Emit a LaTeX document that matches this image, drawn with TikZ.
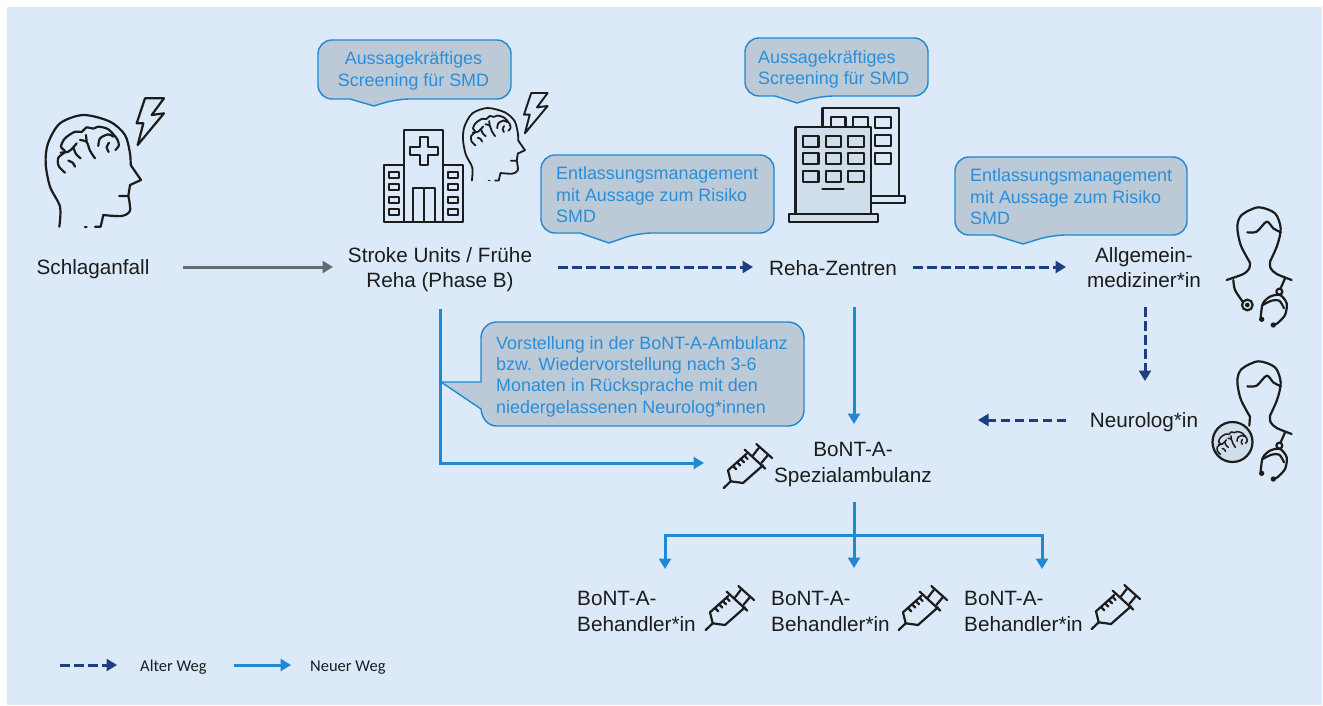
\documentclass[tikz,border=0pt]{standalone}
\usepackage{fontspec}
\setmainfont{Liberation Sans}
\newfontfamily\legendfont{Carlito}
\usetikzlibrary{arrows.meta}
\definecolor{bgblue}{HTML}{DBE9F8}
\definecolor{boxfill}{HTML}{BCC9D6}
\definecolor{newblue}{HTML}{2089D2}
\definecolor{txtblue}{HTML}{2A8FD8}
\definecolor{oldnavy}{HTML}{1B3F80}
\definecolor{greyarrow}{HTML}{666B70}
\definecolor{iconfill}{HTML}{D0DDEA}
\definecolor{ink}{HTML}{1C1C1C}
\tikzset{
  calloutbox/.style={draw=newblue,fill=boxfill,line width=1.4pt,rounded corners=14pt},
  calltext/.style={text=txtblue,inner sep=0pt,font=\fontsize{17.9}{21.4}\selectfont},
  labeltext/.style={text=ink,inner sep=0pt,font=\fontsize{20.7}{25.5}\selectfont},
  legendtext/.style={text=ink,inner sep=0pt,font=\legendfont\fontsize{16.5}{18}\selectfont},
  newway/.style={draw=newblue,line width=3pt,-{Triangle[length=10.5pt,width=12pt]}},
  oldway/.style={draw=oldnavy,line width=3pt,dash pattern=on 9.5pt off 4.5pt,-{Triangle[length=10.5pt,width=12pt]}},
  greyway/.style={draw=greyarrow,line width=3pt,-{Triangle[length=10.5pt,width=12pt]}},
  icon/.style={draw=ink,line width=2.2pt,line cap=round,line join=round},
}
\newcommand{\brainlines}{%
  \draw[icon] plot[smooth] coordinates {(75,248)(56,228)(55,203)(75,185)(63,170)(75,145)(105,125)(125,126)(140,112)(160,116)(175,110)(205,118)(232,148)(236,168)(226,180)};
  \draw[icon] plot[smooth] coordinates {(62,188)(85,185)(100,172)(110,160)};
  \draw[icon] plot[smooth] coordinates {(100,172)(108,192)(122,205)};
  \draw[icon] plot[smooth] coordinates {(120,150)(140,156)(150,182)(165,205)};
  \draw[icon] (138,135) -- (140,156);
  \draw[icon] plot[smooth] coordinates {(105,230)(98,218)(85,212)};
  \draw[icon] plot[smooth] coordinates {(175,168)(180,145)(205,133)(220,140)};
  \draw[icon] plot[smooth] coordinates {(207,158)(200,172)(206,186)};
}
\newcommand{\headoutline}{%
  \draw[icon] plot[smooth] coordinates {(58,410)(60,350)(30,290)(17,220)(24,160)(60,100)(130,75)(210,95)(255,135)(270,190)(272,225)};
  \draw[icon] (272,225) -- (303,270) -- (270,285) -- (265,318) -- (238,318);
  \draw[icon] plot[smooth] coordinates {(265,318)(270,362)(245,378)(190,375)};
  \draw[icon] (190,375) -- (182,410) -- (165,410);
  \draw[icon] (135,410) -- (140,410);
}
\newcommand{\boltshape}{%
  \draw[icon] (315,25) -- (372,25) -- (335,75) -- (372,70) -- (293,165) -- (310,100) -- (290,100) -- cycle;
}
\newcommand{\doctorbase}{%
  \draw[icon] plot[smooth] coordinates {(90,188)(62,135)(52,80)(65,45)(115,22)(165,40)(182,85)(172,135)(150,185)};
  \draw[icon] plot[smooth] coordinates {(82,97)(110,95)(140,65)(160,85)(182,97)};
  \draw[icon] plot[smooth] coordinates {(150,185)(152,205)(170,222)(215,240)};
  \draw[icon] (195,235) -- (182,265);
  \draw[icon] (178,275) circle [radius=9];
  \draw[icon] plot[smooth] coordinates {(122,355)(128,312)(150,290)(180,285)(200,310)(195,345)(172,370)(160,375)};
  \draw[icon] plot[smooth] coordinates {(128,315)(155,302)(178,302)(192,325)};
  \fill[ink] (125,358) circle [radius=8];
  \fill[ink] (160,375) circle [radius=8];
}
\newcommand{\syringe}{%
  \draw[icon] (0.7,0) -- (7.7,-6.7);
  \draw[icon] (23.3,-34) -- (5,-17.7) -- (7.7,-6.7) -- (20,-5) -- (40,-22.7);
  \draw[icon] (21.7,-38.3) -- (42.3,-19.3);
  \draw[icon] (33.3,-44) -- (49,-30);
  \draw[icon] (29.3,-31.7) -- (35.7,-40);
  \draw[icon] (38.3,-25) -- (45,-33);
  \draw[icon] (10,-22) -- +(3.3,3.3);
  \draw[icon] (14,-25.7) -- +(3.3,3.3);
  \draw[icon] (17.7,-29) -- +(3.3,3.3);
  \draw[icon] (21.3,-32.3) -- +(3.3,3.3);
}
\begin{document}
\begin{tikzpicture}[x=1pt,y=-1pt]
\useasboundingbox (0,0) rectangle (1323,706);
\fill[white] (0,0) rectangle (1323,706);
\fill[bgblue] (7,7) rectangle (1322,705);

% head icons
\begin{scope}[shift={(40,90)},scale=1/3]
  \headoutline \brainlines \boltshape
\end{scope}
\begin{scope}[shift={(459.3,91.75)},scale=0.2167]
  \tikzset{icon/.append style={line width=1.8pt}}
  \headoutline \brainlines
\end{scope}
\begin{scope}[shift={(440.5,85.8)},scale=0.288]
  \tikzset{icon/.append style={line width=1.9pt}}
  \boltshape
\end{scope}

% hospital
\begin{scope}[shift={(20,30)},scale=1/3]
  \draw[icon] (1092,405) rectangle (1152,575);
  \draw[icon] (1152,300) rectangle (1270,575);
  \draw[icon] (1270,405) rectangle (1330,575);
  \draw[icon] (1200,320) -- (1224,320) -- (1224,350) -- (1253,350) -- (1253,376) -- (1224,376) -- (1224,406) -- (1200,406) -- (1200,376) -- (1170,376) -- (1170,350) -- (1200,350) -- cycle;
  \draw[icon] (1178,475) rectangle (1245,575);
  \draw[icon] (1212,475) -- (1212,575);
  \foreach \wy in {425,463,500,538}{
    \draw[icon] (1107,\wy) rectangle (1138,\wy+18);
    \draw[icon] (1283,\wy) rectangle (1314,\wy+18);
  }
\end{scope}

% rehab building
\begin{scope}[shift={(730,30)},xscale=1/2.703,yscale=1/3]
  \draw[icon] (250,290) -- (250,235) -- (456,235) -- (456,497);
  \draw[icon] (382,497) rectangle (472,520);
  \draw[icon] (272,290) -- (272,260) -- (312,260) -- (312,290);
  \draw[icon] (332,290) -- (332,260) -- (372,260) -- (372,290);
  \draw[icon] (392,260) rectangle (435,293);
  \draw[icon] (392,316) rectangle (435,347);
  \draw[icon] (392,368) rectangle (435,403);
  \draw[icon,fill=iconfill] (177,290) rectangle (382,552);
  \draw[icon,fill=iconfill] (160,552) rectangle (400,575);
  \foreach \wy in {317,370,424}{
    \foreach \wx in {197,259,320}{
      \draw[icon] (\wx,\wy) rectangle (\wx+42,\wy+33);
    }
  }
  \draw[icon] (250,478) -- (307,478);
\end{scope}

% doctors
\begin{scope}[shift={(1220,200)},scale=1/3]
  \doctorbase
  \draw[icon] plot[smooth] coordinates {(90,188)(88,205)(70,222)(20,240)};
  \draw[icon] plot[smooth] coordinates {(40,240)(45,270)(68,305)};
  \draw[icon] (82,315) circle [radius=16];
  \fill[ink] (82,315) circle [radius=7];
\end{scope}
\begin{scope}[shift={(1220,354)},scale=1/3]
  \doctorbase
  \draw[icon] (90,188) -- (88,215);
\end{scope}
\draw[icon,fill=iconfill] (1232.5,442) circle [radius=20];
\begin{scope}[shift={(1208.2,413.5)},scale=0.165]
  \tikzset{icon/.append style={line width=1.5pt}}
  \brainlines
\end{scope}

% syringes
\begin{scope}[shift={(723,488)}] \syringe \end{scope}
\begin{scope}[shift={(705,630)}] \syringe \end{scope}
\begin{scope}[shift={(898,630)}] \syringe \end{scope}
\begin{scope}[shift={(1091,629)}] \syringe \end{scope}

% callouts
\draw[calloutbox] (318,40) -- (511,40) -- (511,99) -- (396,99) [sharp corners] -- (374,106) -- (350,99) [rounded corners=14pt] -- (318,99) -- cycle;
\draw[calloutbox] (745,38) -- (928,38) -- (928,96) -- (820,96) [sharp corners] -- (797,103) -- (775,96) [rounded corners=14pt] -- (745,96) -- cycle;
\draw[calloutbox] (541,155) -- (774,155) -- (774,233) -- (638,233) [sharp corners] -- (609,243) -- (580,233) [rounded corners=14pt] -- (541,233) -- cycle;
\draw[calloutbox] (955,157) -- (1187,157) -- (1187,235) -- (1052,235) [sharp corners] -- (1023,244) -- (994,235) [rounded corners=14pt] -- (955,235) -- cycle;
\draw[calloutbox,sharp corners] (497,322) -- (788,322) .. controls (797,322) and (804,329) .. (804,338) -- (804,410) .. controls (804,419) and (797,426) .. (788,426) -- (497,426) .. controls (488,426) and (482,419) .. (481,409) -- (441,382) -- (481,382) -- (481,338) .. controls (481,329) and (488,322) .. (497,322) -- cycle;

\node[calltext,align=center] (c1) at (413.5,71) {Aussagekräftiges\\Screening für SMD};
\node[calltext,align=left,anchor=west] (c2) at (758,69.5) {Aussagekräftiges\\Screening für SMD};
\node[calltext,align=left,anchor=west] (c3) at (556,195) {Entlassungsmanagement\\mit Aussage zum Risiko\\SMD};
\node[calltext,align=left,anchor=west] (c4) at (970,197) {Entlassungsmanagement\\mit Aussage zum Risiko\\SMD};
\node[calltext,align=left,anchor=west] (c5) at (496,376.5) {Vorstellung in der BoNT-A-Ambulanz\\bzw. Wiedervorstellung nach 3-6\\Monaten in Rücksprache mit den\\niedergelassenen Neurolog*innen};

% labels
\node[labeltext] (schlag) at (93,269.5) {Schlaganfall};
\node[labeltext,align=center] (stroke) at (440,269.5) {Stroke Units / Frühe\\Reha (Phase B)};
\node[labeltext] (reha) at (833,268) {Reha-Zentren};
\node[labeltext,align=center] (allg) at (1144,267.5) {Allgemein-\\mediziner*in};
\node[labeltext] (neuro) at (1144,422) {Neurolog*in};
\node[labeltext,align=center] (spezial) at (853,464.5) {BoNT-A-\\Spezialambulanz};
\node[labeltext,align=left,anchor=west] (beh1) at (577,611.5) {BoNT-A-\\Behandler*in};
\node[labeltext,align=left,anchor=west] (beh2) at (771,611.5) {BoNT-A-\\Behandler*in};
\node[labeltext,align=left,anchor=west] (beh3) at (964,611.5) {BoNT-A-\\Behandler*in};
\node[legendtext,anchor=base west] (alt) at (140,671) {Alter Weg};
\node[legendtext,anchor=base west] (neu) at (310,671) {Neuer Weg};

% connector ends
\coordinate (a1s) at (183,267); \coordinate (a1e) at (333,267);
\coordinate (a2s) at (558,267); \coordinate (a2e) at (753,267);
\coordinate (a3s) at (913,267); \coordinate (a3e) at (1066,267);
\coordinate (a4s) at (1145,307); \coordinate (a4e) at (1145,381);
\coordinate (a5s) at (1066,420); \coordinate (a5e) at (978,420);
\coordinate (b1s) at (440,309); \coordinate (b1c) at (440,463); \coordinate (b1e) at (704,463);
\coordinate (b2s) at (854,307); \coordinate (b2e) at (854,424);
\coordinate (b3s) at (854,502); \coordinate (b3e) at (854,568);
\coordinate (b3j) at (854,535);
\coordinate (b4c) at (665,535); \coordinate (b4e) at (665,569);
\coordinate (b5c) at (1042,535); \coordinate (b5e) at (1042,569);
\coordinate (l1s) at (60,665); \coordinate (l1e) at (117,665);
\coordinate (l2s) at (234,665); \coordinate (l2e) at (291,665);

\draw[greyway] (a1s) -- (a1e);
\draw[oldway] (a2s) -- (a2e);
\draw[oldway] (a3s) -- (a3e);
\draw[oldway] (a4s) -- (a4e);
\draw[oldway] (a5s) -- (a5e);
\draw[newway] (b1s) -- (b1c) -- (b1e);
\draw[newway] (b2s) -- (b2e);
\draw[newway] (b3s) -- (b3e);
\draw[newway] (b3j) -- (b4c) -- (b4e);
\draw[newway] (b3j) -- (b5c) -- (b5e);
\draw[oldway] (l1s) -- (l1e);
\draw[newway] (l2s) -- (l2e);
\end{tikzpicture}
\end{document}
